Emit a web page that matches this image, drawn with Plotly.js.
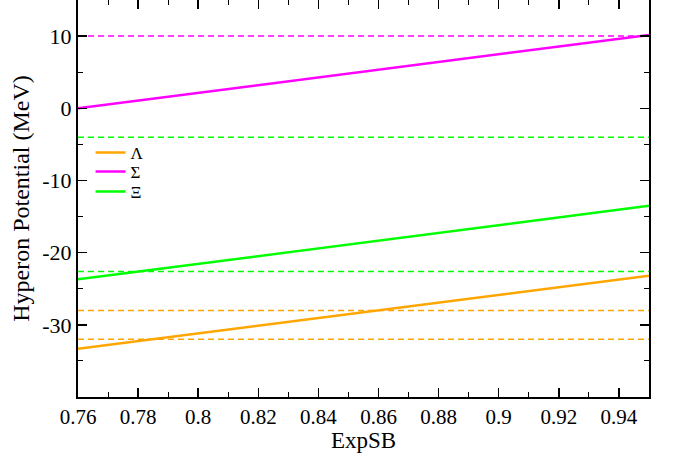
<!DOCTYPE html>
<html>
<head>
<meta charset="utf-8">
<script src="https://cdn.plot.ly/plotly-3.0.1.min.js"></script>
<style>html,body{margin:0;padding:0;background:#fff;}#plot{width:676px;height:453px;}</style>
</head>
<body>
<div id="plot"></div>
<script>
// ExpSB range endpoints
const expSB = [0.76, 0.95];
// Solid curves (hyperon potentials)
const lambdaU = [-33.3, -23.2];
const sigmaU = [0.0, 10.15];
const xiU = [-23.7, -13.5];
// Dashed reference levels
const lambdaRef = [-28.0, -32.0];
const sigmaRef = [10.0];
const xiRef = [-4.0, -22.6];
const names = ['Λ', 'Σ', 'Ξ'];
const colors = ['#FFA500', '#FF00FF', '#00FF00'];
// Tick labels
const yTickVals = [-30, -20, -10, 0, 10];
const yTickText = ['-30', '-20', '-10', '0', '10'];
const yMinorVals = [-35, -25, -15, -5, 5];
const xTickVals = [0.76, 0.78, 0.8, 0.82, 0.84, 0.86, 0.88, 0.9, 0.92, 0.94];
const xTickText = ['0.76', '0.78', '0.8', '0.82', '0.84', '0.86', '0.88', '0.9', '0.92', '0.94'];

const traces = [];
function refTraces(levels, color) {
  levels.forEach(v => {
    traces.push({x: expSB, y: [v, v], mode: 'lines', showlegend: false, hoverinfo: 'skip',
      line: {color: color, width: 1.5, dash: '6px,4px'}});
  });
}
refTraces(sigmaRef, colors[1]);
refTraces(xiRef, colors[2]);
refTraces(lambdaRef, colors[0]);
const legendIds = ['legend', 'legend2', 'legend3'];
[lambdaU, sigmaU, xiU].forEach((ys, i) => {
  traces.push({x: expSB, y: ys, mode: 'lines', name: names[i], legend: legendIds[i],
    line: {color: colors[i], width: 2.5}});
});

const FAM = 'Liberation Serif';
const font = (s) => ({family: FAM, size: s, color: '#000'});
const legendBase = (y) => ({x: 0.022, y: y, xanchor: 'left', yanchor: 'middle', bgcolor: 'rgba(0,0,0,0)',
  font: font(17), borderwidth: 0});
const layout = {
  width: 676, height: 453,
  margin: {l: 78, r: 27, t: 0, b: 56},
  paper_bgcolor: '#fff', plot_bgcolor: '#fff',
  font: font(20),
  showlegend: true,
  legend: legendBase(0.6146),
  legend2: legendBase(0.5668),
  legend3: legendBase(0.5164),
  xaxis: {
    range: [0.76, 0.95], tickmode: 'array', tickvals: xTickVals, ticktext: xTickText,
    showgrid: false, zeroline: false,
    showline: true, linecolor: '#000', linewidth: 2, mirror: 'ticks',
    ticks: 'inside', ticklen: 9, tickwidth: 1.5, tickcolor: '#000',
    minor: {dtick: 0.01, tick0: 0.76, ticks: 'inside', ticklen: 5, tickwidth: 1, tickcolor: '#000', showgrid: false},
    tickfont: font(21),
    title: {text: 'ExpSB', font: font(23), standoff: 2}
  },
  yaxis: {
    range: [-40, 15], tickmode: 'array', tickvals: yTickVals, ticktext: yTickText,
    showgrid: false, zeroline: false,
    showline: true, linecolor: '#000', linewidth: 2, mirror: 'ticks',
    ticks: 'inside', ticklen: 9, tickwidth: 1.5, tickcolor: '#000',
    minor: {tickmode: 'array', tickvals: yMinorVals, ticks: 'inside', ticklen: 5, tickwidth: 1, tickcolor: '#000', showgrid: false},
    tickfont: font(22),
    title: {text: 'Hyperon Potential (MeV)', font: font(24), standoff: 6}
  }
};
Plotly.newPlot('plot', traces, layout, {displayModeBar: false, staticPlot: true});
</script>
</body>
</html>
